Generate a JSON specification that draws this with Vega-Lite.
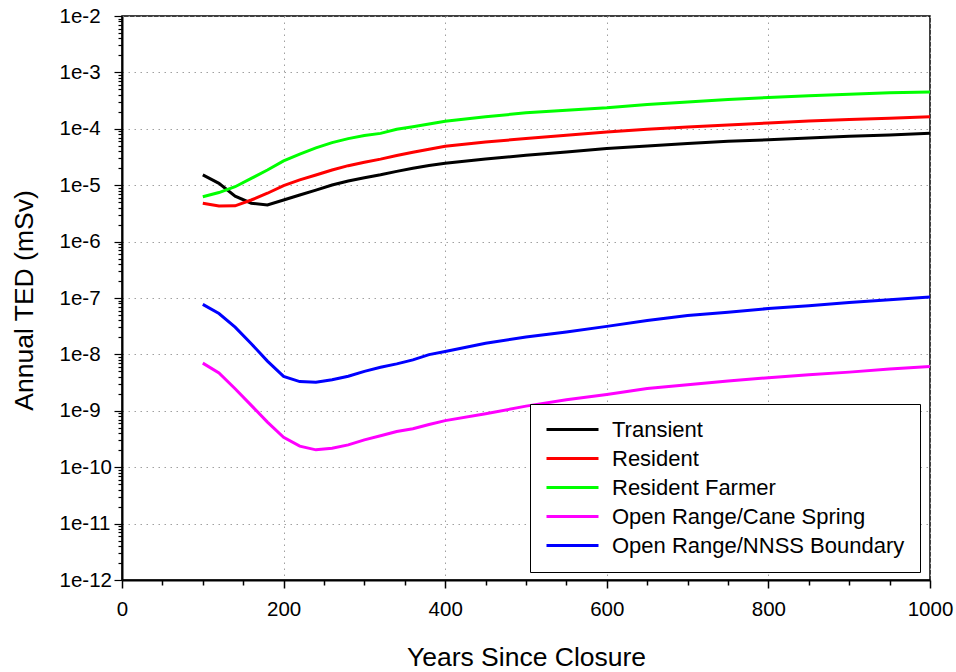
{
  "$schema": "https://vega.github.io/schema/vega-lite/v6.json",
  "width": 808,
  "height": 564,
  "autosize": {"type": "none"},
  "padding": {"left": 122, "top": 16, "right": 26, "bottom": 92},
  "background": "white",
  "config": {
    "font": "Liberation Sans",
    "view": {"stroke": "black", "strokeWidth": 1.5}
  },
  "data": {
    "values": [
      {"series": "Transient", "year": 100, "ted": 1.52e-5},
      {"series": "Transient", "year": 120, "ted": 1.08e-5},
      {"series": "Transient", "year": 140, "ted": 6.4e-6},
      {"series": "Transient", "year": 160, "ted": 4.8e-6},
      {"series": "Transient", "year": 180, "ted": 4.46e-6},
      {"series": "Transient", "year": 200, "ted": 5.47e-6},
      {"series": "Transient", "year": 220, "ted": 6.7e-6},
      {"series": "Transient", "year": 240, "ted": 8.2e-6},
      {"series": "Transient", "year": 260, "ted": 1.01e-5},
      {"series": "Transient", "year": 280, "ted": 1.19e-5},
      {"series": "Transient", "year": 300, "ted": 1.36e-5},
      {"series": "Transient", "year": 320, "ted": 1.53e-5},
      {"series": "Transient", "year": 340, "ted": 1.76e-5},
      {"series": "Transient", "year": 360, "ted": 2.0e-5},
      {"series": "Transient", "year": 380, "ted": 2.24e-5},
      {"series": "Transient", "year": 400, "ted": 2.46e-5},
      {"series": "Transient", "year": 450, "ted": 2.92e-5},
      {"series": "Transient", "year": 500, "ted": 3.4e-5},
      {"series": "Transient", "year": 550, "ted": 3.89e-5},
      {"series": "Transient", "year": 600, "ted": 4.46e-5},
      {"series": "Transient", "year": 650, "ted": 4.97e-5},
      {"series": "Transient", "year": 700, "ted": 5.5e-5},
      {"series": "Transient", "year": 750, "ted": 6.0e-5},
      {"series": "Transient", "year": 800, "ted": 6.4e-5},
      {"series": "Transient", "year": 850, "ted": 6.9e-5},
      {"series": "Transient", "year": 900, "ted": 7.4e-5},
      {"series": "Transient", "year": 950, "ted": 7.8e-5},
      {"series": "Transient", "year": 1000, "ted": 8.3e-5},

      {"series": "Resident", "year": 100, "ted": 4.8e-6},
      {"series": "Resident", "year": 120, "ted": 4.27e-6},
      {"series": "Resident", "year": 140, "ted": 4.3e-6},
      {"series": "Resident", "year": 160, "ted": 5.47e-6},
      {"series": "Resident", "year": 180, "ted": 7.2e-6},
      {"series": "Resident", "year": 200, "ted": 9.8e-6},
      {"series": "Resident", "year": 220, "ted": 1.24e-5},
      {"series": "Resident", "year": 240, "ted": 1.52e-5},
      {"series": "Resident", "year": 260, "ted": 1.86e-5},
      {"series": "Resident", "year": 280, "ted": 2.22e-5},
      {"series": "Resident", "year": 300, "ted": 2.55e-5},
      {"series": "Resident", "year": 320, "ted": 2.9e-5},
      {"series": "Resident", "year": 340, "ted": 3.36e-5},
      {"series": "Resident", "year": 360, "ted": 3.85e-5},
      {"series": "Resident", "year": 380, "ted": 4.35e-5},
      {"series": "Resident", "year": 400, "ted": 4.9e-5},
      {"series": "Resident", "year": 450, "ted": 5.85e-5},
      {"series": "Resident", "year": 500, "ted": 6.7e-5},
      {"series": "Resident", "year": 550, "ted": 7.7e-5},
      {"series": "Resident", "year": 600, "ted": 8.8e-5},
      {"series": "Resident", "year": 650, "ted": 9.8e-5},
      {"series": "Resident", "year": 700, "ted": 1.08e-4},
      {"series": "Resident", "year": 750, "ted": 1.17e-4},
      {"series": "Resident", "year": 800, "ted": 1.27e-4},
      {"series": "Resident", "year": 850, "ted": 1.37e-4},
      {"series": "Resident", "year": 900, "ted": 1.46e-4},
      {"series": "Resident", "year": 950, "ted": 1.54e-4},
      {"series": "Resident", "year": 1000, "ted": 1.63e-4},

      {"series": "Resident Farmer", "year": 100, "ted": 6.25e-6},
      {"series": "Resident Farmer", "year": 120, "ted": 7.4e-6},
      {"series": "Resident Farmer", "year": 140, "ted": 9.4e-6},
      {"series": "Resident Farmer", "year": 160, "ted": 1.32e-5},
      {"series": "Resident Farmer", "year": 180, "ted": 1.86e-5},
      {"series": "Resident Farmer", "year": 200, "ted": 2.7e-5},
      {"series": "Resident Farmer", "year": 220, "ted": 3.57e-5},
      {"series": "Resident Farmer", "year": 240, "ted": 4.6e-5},
      {"series": "Resident Farmer", "year": 260, "ted": 5.7e-5},
      {"series": "Resident Farmer", "year": 280, "ted": 6.7e-5},
      {"series": "Resident Farmer", "year": 300, "ted": 7.6e-5},
      {"series": "Resident Farmer", "year": 320, "ted": 8.3e-5},
      {"series": "Resident Farmer", "year": 340, "ted": 9.8e-5},
      {"series": "Resident Farmer", "year": 360, "ted": 1.09e-4},
      {"series": "Resident Farmer", "year": 380, "ted": 1.22e-4},
      {"series": "Resident Farmer", "year": 400, "ted": 1.36e-4},
      {"series": "Resident Farmer", "year": 450, "ted": 1.63e-4},
      {"series": "Resident Farmer", "year": 500, "ted": 1.92e-4},
      {"series": "Resident Farmer", "year": 550, "ted": 2.14e-4},
      {"series": "Resident Farmer", "year": 600, "ted": 2.36e-4},
      {"series": "Resident Farmer", "year": 650, "ted": 2.7e-4},
      {"series": "Resident Farmer", "year": 700, "ted": 3.0e-4},
      {"series": "Resident Farmer", "year": 750, "ted": 3.31e-4},
      {"series": "Resident Farmer", "year": 800, "ted": 3.6e-4},
      {"series": "Resident Farmer", "year": 850, "ted": 3.85e-4},
      {"series": "Resident Farmer", "year": 900, "ted": 4.1e-4},
      {"series": "Resident Farmer", "year": 950, "ted": 4.35e-4},
      {"series": "Resident Farmer", "year": 1000, "ted": 4.5e-4},

      {"series": "Open Range/Cane Spring", "year": 100, "ted": 7.0e-9},
      {"series": "Open Range/Cane Spring", "year": 120, "ted": 4.7e-9},
      {"series": "Open Range/Cane Spring", "year": 140, "ted": 2.46e-9},
      {"series": "Open Range/Cane Spring", "year": 160, "ted": 1.25e-9},
      {"series": "Open Range/Cane Spring", "year": 180, "ted": 6.3e-10},
      {"series": "Open Range/Cane Spring", "year": 200, "ted": 3.4e-10},
      {"series": "Open Range/Cane Spring", "year": 220, "ted": 2.36e-10},
      {"series": "Open Range/Cane Spring", "year": 240, "ted": 2.03e-10},
      {"series": "Open Range/Cane Spring", "year": 260, "ted": 2.17e-10},
      {"series": "Open Range/Cane Spring", "year": 280, "ted": 2.49e-10},
      {"series": "Open Range/Cane Spring", "year": 300, "ted": 3.05e-10},
      {"series": "Open Range/Cane Spring", "year": 320, "ted": 3.6e-10},
      {"series": "Open Range/Cane Spring", "year": 340, "ted": 4.3e-10},
      {"series": "Open Range/Cane Spring", "year": 360, "ted": 4.8e-10},
      {"series": "Open Range/Cane Spring", "year": 380, "ted": 5.7e-10},
      {"series": "Open Range/Cane Spring", "year": 400, "ted": 6.7e-10},
      {"series": "Open Range/Cane Spring", "year": 450, "ted": 8.85e-10},
      {"series": "Open Range/Cane Spring", "year": 500, "ted": 1.21e-9},
      {"series": "Open Range/Cane Spring", "year": 550, "ted": 1.57e-9},
      {"series": "Open Range/Cane Spring", "year": 600, "ted": 1.95e-9},
      {"series": "Open Range/Cane Spring", "year": 650, "ted": 2.49e-9},
      {"series": "Open Range/Cane Spring", "year": 700, "ted": 2.9e-9},
      {"series": "Open Range/Cane Spring", "year": 750, "ted": 3.37e-9},
      {"series": "Open Range/Cane Spring", "year": 800, "ted": 3.86e-9},
      {"series": "Open Range/Cane Spring", "year": 850, "ted": 4.36e-9},
      {"series": "Open Range/Cane Spring", "year": 900, "ted": 4.85e-9},
      {"series": "Open Range/Cane Spring", "year": 950, "ted": 5.5e-9},
      {"series": "Open Range/Cane Spring", "year": 1000, "ted": 6.1e-9},

      {"series": "Open Range/NNSS Boundary", "year": 100, "ted": 7.7e-8},
      {"series": "Open Range/NNSS Boundary", "year": 120, "ted": 5.3e-8},
      {"series": "Open Range/NNSS Boundary", "year": 140, "ted": 3.05e-8},
      {"series": "Open Range/NNSS Boundary", "year": 160, "ted": 1.55e-8},
      {"series": "Open Range/NNSS Boundary", "year": 180, "ted": 7.6e-9},
      {"series": "Open Range/NNSS Boundary", "year": 200, "ted": 4.07e-9},
      {"series": "Open Range/NNSS Boundary", "year": 220, "ted": 3.3e-9},
      {"series": "Open Range/NNSS Boundary", "year": 240, "ted": 3.2e-9},
      {"series": "Open Range/NNSS Boundary", "year": 260, "ted": 3.55e-9},
      {"series": "Open Range/NNSS Boundary", "year": 280, "ted": 4.1e-9},
      {"series": "Open Range/NNSS Boundary", "year": 300, "ted": 5.0e-9},
      {"series": "Open Range/NNSS Boundary", "year": 320, "ted": 5.9e-9},
      {"series": "Open Range/NNSS Boundary", "year": 340, "ted": 6.8e-9},
      {"series": "Open Range/NNSS Boundary", "year": 360, "ted": 8.0e-9},
      {"series": "Open Range/NNSS Boundary", "year": 380, "ted": 9.9e-9},
      {"series": "Open Range/NNSS Boundary", "year": 400, "ted": 1.13e-8},
      {"series": "Open Range/NNSS Boundary", "year": 450, "ted": 1.58e-8},
      {"series": "Open Range/NNSS Boundary", "year": 500, "ted": 2.03e-8},
      {"series": "Open Range/NNSS Boundary", "year": 550, "ted": 2.5e-8},
      {"series": "Open Range/NNSS Boundary", "year": 600, "ted": 3.14e-8},
      {"series": "Open Range/NNSS Boundary", "year": 650, "ted": 4.0e-8},
      {"series": "Open Range/NNSS Boundary", "year": 700, "ted": 4.9e-8},
      {"series": "Open Range/NNSS Boundary", "year": 750, "ted": 5.6e-8},
      {"series": "Open Range/NNSS Boundary", "year": 800, "ted": 6.5e-8},
      {"series": "Open Range/NNSS Boundary", "year": 850, "ted": 7.3e-8},
      {"series": "Open Range/NNSS Boundary", "year": 900, "ted": 8.3e-8},
      {"series": "Open Range/NNSS Boundary", "year": 950, "ted": 9.3e-8},
      {"series": "Open Range/NNSS Boundary", "year": 1000, "ted": 1.04e-7}
    ]
  },
  "mark": {"type": "line", "strokeWidth": 3, "clip": true},
  "encoding": {
    "x": {
      "field": "year",
      "type": "quantitative",
      "scale": {"domain": [0, 1000], "nice": false, "zero": false},
      "axis": {
        "title": "Years Since Closure",
        "titleFont": "Liberation Sans",
        "titleFontSize": 26.5,
        "titleFontWeight": "normal",
        "titleColor": "black",
        "titleBaseline": "alphabetic",
        "titleY": 85,
        "values": [0, 50, 100, 150, 200, 250, 300, 350, 400, 450, 500, 550, 600, 650, 700, 750, 800, 850, 900, 950, 1000],
        "format": "d",
        "labelExpr": "datum.value % 200 == 0 ? datum.label : ''",
        "labelFont": "Liberation Sans",
        "labelFontSize": 20.5,
        "labelColor": "black",
        "labelFlush": false,
        "labelOverlap": false,
        "labelPadding": 11,
        "tickSize": {"condition": {"test": "datum.value % 200 == 0", "value": 8}, "value": 5},
        "tickColor": "black",
        "tickWidth": 1.5,
        "domainColor": "black",
        "domainWidth": 2,
        "grid": true,
        "gridColor": "#a0a0a0",
        "gridDash": [1.5, 4.5],
        "gridWidth": 1,
        "gridOpacity": {"condition": {"test": "datum.value % 200 == 0", "value": 1}, "value": 0}
      }
    },
    "y": {
      "field": "ted",
      "type": "quantitative",
      "scale": {"type": "log", "domain": [1e-12, 1e-2], "nice": false},
      "axis": {
        "title": "Annual TED (mSv)",
        "titleFont": "Liberation Sans",
        "titleFontSize": 26.5,
        "titleFontWeight": "normal",
        "titleColor": "black",
        "titleBaseline": "alphabetic",
        "titleAngle": -90,
        "titleX": -90,
        "titleY": 284,
        "values": [1e-12, 2e-12, 3e-12, 4e-12, 5e-12, 6e-12, 7e-12, 8e-12, 9e-12,
                   1e-11, 2e-11, 3e-11, 4e-11, 5e-11, 6e-11, 7e-11, 8e-11, 9e-11,
                   1e-10, 2e-10, 3e-10, 4e-10, 5e-10, 6e-10, 7e-10, 8e-10, 9e-10,
                   1e-9, 2e-9, 3e-9, 4e-9, 5e-9, 6e-9, 7e-9, 8e-9, 9e-9,
                   1e-8, 2e-8, 3e-8, 4e-8, 5e-8, 6e-8, 7e-8, 8e-8, 9e-8,
                   1e-7, 2e-7, 3e-7, 4e-7, 5e-7, 6e-7, 7e-7, 8e-7, 9e-7,
                   1e-6, 2e-6, 3e-6, 4e-6, 5e-6, 6e-6, 7e-6, 8e-6, 9e-6,
                   1e-5, 2e-5, 3e-5, 4e-5, 5e-5, 6e-5, 7e-5, 8e-5, 9e-5,
                   1e-4, 2e-4, 3e-4, 4e-4, 5e-4, 6e-4, 7e-4, 8e-4, 9e-4,
                   1e-3, 2e-3, 3e-3, 4e-3, 5e-3, 6e-3, 7e-3, 8e-3, 9e-3,
                   1e-2],
        "labelExpr": "abs(log(datum.value)/LN10 - round(log(datum.value)/LN10)) < 1e-6 ? '1e' + round(log(datum.value)/LN10) : ''",
        "labelFont": "Liberation Sans",
        "labelFontSize": 20.5,
        "labelColor": "black",
        "labelAlign": "left",
        "labelBaseline": "middle",
        "labelPadding": 55,
        "labelFlush": false,
        "labelOverlap": false,
        "tickSize": {"condition": {"test": "abs(log(datum.value)/LN10 - round(log(datum.value)/LN10)) < 1e-6", "value": 8}, "value": 4},
        "tickColor": "black",
        "tickWidth": 1.2,
        "domainColor": "black",
        "domainWidth": 2,
        "grid": true,
        "gridColor": "#a0a0a0",
        "gridDash": [1.5, 4.5],
        "gridWidth": 1,
        "gridOpacity": {"condition": {"test": "abs(log(datum.value)/LN10 - round(log(datum.value)/LN10)) < 1e-6", "value": 1}, "value": 0}
      }
    },
    "color": {
      "field": "series",
      "type": "nominal",
      "scale": {
        "domain": ["Transient", "Resident", "Resident Farmer", "Open Range/Cane Spring", "Open Range/NNSS Boundary"],
        "range": ["#000000", "#ff0000", "#00ff00", "#ff00ff", "#0000ff"]
      },
      "legend": {
        "title": null,
        "orient": "none",
        "legendX": 408,
        "legendY": 388,
        "fillColor": "white",
        "strokeColor": "black",
        "padding": 15,
        "symbolType": "stroke",
        "symbolSize": 2704,
        "symbolStrokeWidth": 3,
        "clipHeight": 21,
        "labelFont": "Liberation Sans",
        "labelFontSize": 22,
        "labelColor": "black",
        "labelOffset": 12,
        "labelLimit": 400,
        "rowPadding": 6
      }
    }
  }
}
